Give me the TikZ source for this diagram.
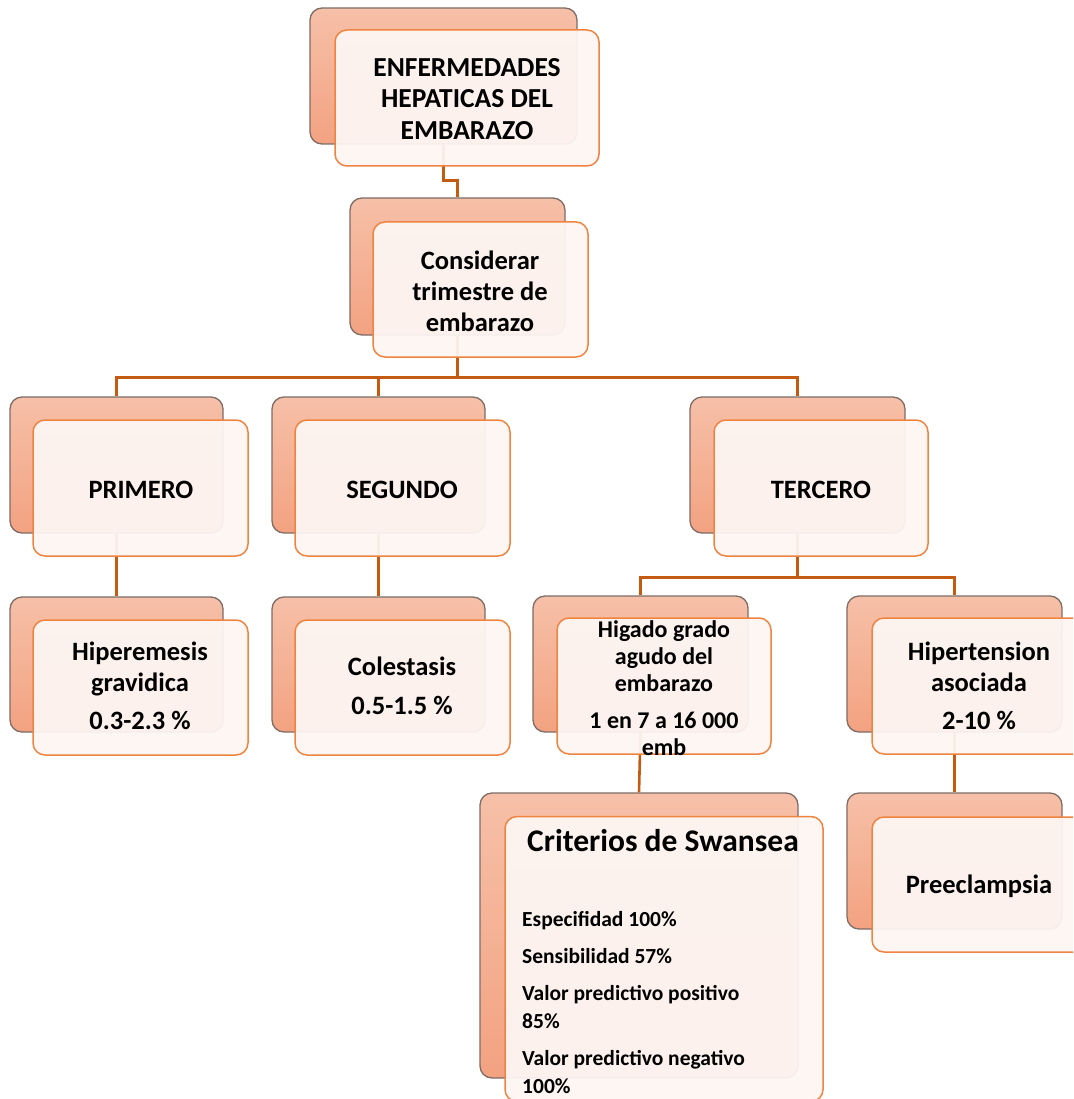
\documentclass[tikz,border=0pt]{standalone}
\usepackage{fontspec}
\setmainfont{Carlito}
\usetikzlibrary{calc}
\definecolor{backA}{HTML}{F6C0A8}
\definecolor{backB}{HTML}{F3A281}
\definecolor{backline}{HTML}{7E6C66}
\definecolor{frontfill}{HTML}{FDF6F3}
\definecolor{frontline}{HTML}{EF8440}
\definecolor{connc}{HTML}{C55A11}
\tikzset{
  backbox/.style={draw=backline, line width=1.3pt, rounded corners=12pt, top color=backA, bottom color=backB, inner sep=0pt},
  frontbox/.style={draw=frontline, line width=1.5pt, rounded corners=12pt, fill=frontfill, fill opacity=0.94, inner sep=0pt},
  conn/.style={draw=connc, line width=2.6pt},
  lbl/.style={inner sep=0pt, align=center, font=\bfseries\fontsize{26.5}{31}\selectfont, text=black},
}
\begin{document}
\begin{tikzpicture}[x=1pt,y=-1pt]
\fill[white] (0,0) rectangle (1073,1099);
\useasboundingbox (0,0) rectangle (1073,1099);
\clip (0,0) rectangle (1073,1099);
% back boxes
\node[backbox, minimum width=267pt, minimum height=136pt] (topB) at (443.5,76) {};
\node[backbox, minimum width=215pt, minimum height=137pt] (consB) at (457.5,266.5) {};
\node[backbox, minimum width=213pt, minimum height=136pt] (primB) at (116.5,465) {};
\node[backbox, minimum width=213pt, minimum height=136pt] (segB) at (378.5,465) {};
\node[backbox, minimum width=215pt, minimum height=136pt] (terB) at (797.5,465) {};
\node[backbox, minimum width=213pt, minimum height=135pt] (hipB) at (116.5,664.5) {};
\node[backbox, minimum width=213pt, minimum height=135pt] (colB) at (378.5,664.5) {};
\node[backbox, minimum width=215pt, minimum height=136pt] (higB) at (640.5,664) {};
\node[backbox, minimum width=215pt, minimum height=136pt] (htaB) at (954.5,664) {};
\node[backbox, minimum width=318pt, minimum height=285pt] (swaB) at (639,935.5) {};
\node[backbox, minimum width=215pt, minimum height=136pt] (preB) at (954.5,861) {};
% connectors
\draw[conn] (topB.south) -- ++(0,36) -| (consB.north);
\draw[conn] (consB.south) -- ++(0,42) coordinate (j1);
\draw[conn] (primB.north) |- (j1) -| (terB.north);
\draw[conn] (segB.north) -- (segB.north |- j1);
\draw[conn] (primB.south) -- (hipB.north);
\draw[conn] (segB.south) -- (colB.north);
\draw[conn] (terB.south) -- ++(0,44) coordinate (j2);
\draw[conn] (higB.north) |- (j2) -| (htaB.north);
\draw[conn] (higB.south) -- (swaB.north);
\draw[conn] (htaB.south) -- (preB.north);
% front boxes
\node[frontbox, minimum width=264pt, minimum height=136pt] (topF) at (467,98) {};
\node[frontbox, minimum width=215pt, minimum height=135pt] (consF) at (480.5,289.5) {};
\node[frontbox, minimum width=215pt, minimum height=136pt] (primF) at (140.5,488) {};
\node[frontbox, minimum width=215pt, minimum height=136pt] (segF) at (402.5,488) {};
\node[frontbox, minimum width=214pt, minimum height=136pt] (terF) at (821,488) {};
\node[frontbox, minimum width=215pt, minimum height=135pt] (hipF) at (140.5,687.5) {};
\node[frontbox, minimum width=215pt, minimum height=135pt] (colF) at (402.5,687.5) {};
\node[frontbox, minimum width=214pt, minimum height=136pt] (higF) at (664,686) {};
\node[frontbox, minimum width=215pt, minimum height=136pt] (htaF) at (979.5,686) {};
\node[frontbox, minimum width=318pt, minimum height=285pt] (swaF) at (664,959) {};
\node[frontbox, minimum width=215pt, minimum height=135pt] (preF) at (979.5,884.5) {};
% texts
\node[lbl, font=\bfseries\fontsize{27.5}{31.5}\selectfont] (topT) at (467,99) {ENFERMEDADES\\HEPATICAS DEL\\EMBARAZO};
\node[lbl] (consT) at (480,291) {Considerar\\trimestre de\\embarazo};
\node[lbl] (primT) at (141,490) {PRIMERO};
\node[lbl] (segT) at (402,490) {SEGUNDO};
\node[lbl] (terT) at (821,490) {TERCERO};
\node[lbl] (hipT) at (140,686) {Hiperemesis\\gravidica\\[7pt]0.3-2.3 \%};
\node[lbl] (colT) at (402,686) {Colestasis\\[8pt]0.5-1.5 \%};
\node[lbl, font=\bfseries\fontsize{24}{27}\selectfont] (higT) at (664,688) {Higado grado\\agudo del\\embarazo\\[10pt]1 en 7 a 16 000\\emb};
\node[lbl] (htaT) at (979,686) {Hipertension\\asociada\\[7pt]2-10 \%};
\node[lbl] (preT) at (979,886) {Preeclampsia};
\node[lbl, font=\bfseries\fontsize{31.5}{37}\selectfont] (swaT) at (663,841) {Criterios de Swansea};
\node[lbl, align=left, anchor=west, font=\bfseries\fontsize{21.5}{28}\selectfont] (swaL) at (522,1003) {Especifidad 100\%\\[9pt]Sensibilidad 57\%\\[9pt]Valor predictivo positivo\\85\%\\[9pt]Valor predictivo negativo\\100\%};
\end{tikzpicture}
\end{document}
